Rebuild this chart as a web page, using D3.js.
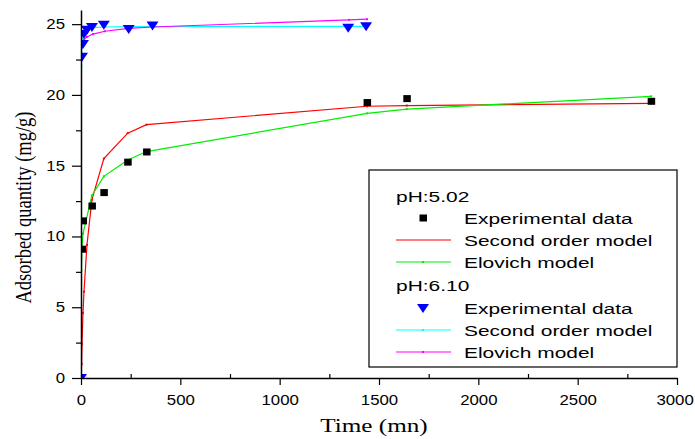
<!DOCTYPE html>
<html>
<head>
<meta charset="utf-8">
<script src="https://cdn.jsdelivr.net/npm/d3@7"></script>
<style>
  body { margin: 0; background: #fff; }
  svg { display: block; }
</style>
</head>
<body>
<script>
// pH 5.02
var tExp1 = [5, 10, 55, 115, 235, 330, 1440, 1640, 2870];
var qExp1 = [9.1, 11.1, 12.15, 13.1, 15.25, 15.97, 19.46, 19.74, 19.55];
var tSec1 = [0, 3, 5, 10, 15, 30, 55, 115, 235, 330, 1440, 1640, 2870];
var qSec1 = [0, 1.0, 2.4, 4.6, 6.1, 9.4, 12.6, 15.5, 17.3, 17.9, 19.2, 19.25, 19.4];
var tElo1 = [1, 2, 5, 10, 55, 115, 235, 330, 1440, 1640, 2870];
var qElo1 = [6.9, 7.6, 9.2, 10.2, 12.9, 14.25, 15.4, 16.0, 18.7, 19.0, 19.9];
// pH 6.10
var tExp2 = [0, 5, 10, 15, 30, 55, 115, 240, 360, 1345, 1435];
var qExp2 = [0, 22.7, 23.6, 24.3, 24.6, 24.8, 24.95, 24.65, 24.9, 24.75, 24.85];
var tSec2 = [0, 2, 5, 10, 15, 30, 60, 120, 240, 360, 1350, 1440];
var qSec2 = [0, 22.0, 23.8, 24.3, 24.5, 24.65, 24.75, 24.8, 24.82, 24.83, 24.85, 24.85];
var tElo2 = [1, 5, 10, 15, 30, 60, 120, 240, 360, 1350, 1440];
var qElo2 = [23.3, 23.6, 23.75, 23.9, 24.1, 24.3, 24.5, 24.7, 24.8, 25.3, 25.35];

var xTicks = [0, 500, 1000, 1500, 2000, 2500, 3000];
var yTicks = [0, 5, 10, 15, 20, 25];

var width = 695, height = 439;
var margin = {top: 10, right: 18, bottom: 61, left: 81};
var sans = "Liberation Sans, Arial, sans-serif";
var serif = "Liberation Serif, Times New Roman, serif";

var svg = d3.select("body").append("svg")
    .attr("width", width).attr("height", height);

var x = d3.scaleLinear().domain([0, 3000]).range([margin.left, width - margin.right]);
var y = d3.scaleLinear().domain([0, 26]).range([height - margin.bottom, margin.top]);

svg.append("defs").append("clipPath").attr("id", "clip")
  .append("rect").attr("x", margin.left).attr("y", margin.top)
  .attr("width", width - margin.right - margin.left)
  .attr("height", height - margin.bottom - margin.top);

var plot = svg.append("g").attr("clip-path", "url(#clip)");

function zip(ts, qs) { return ts.map((t, i) => [t, qs[i]]); }
var line = d3.line().x(d => x(d[0])).y(d => y(d[1]));

var fits = [
  {d: zip(tSec1, qSec1), c: "#ff0000"},
  {d: zip(tElo1, qElo1), c: "#00ee00"},
  {d: zip(tSec2, qSec2), c: "#00ffff"},
  {d: zip(tElo2, qElo2), c: "#ff00ff"}
];
fits.forEach(f => {
  plot.append("path").datum(f.d)
    .attr("fill", "none").attr("stroke", f.c).attr("stroke-width", 1.2)
    .attr("d", line);
  plot.selectAll(null).data(f.d).join("rect")
    .attr("x", d => x(d[0]) - 1).attr("y", d => y(d[1]) - 1)
    .attr("width", 2).attr("height", 2).attr("fill", f.c);
});

// experimental points
plot.selectAll(".sq").data(zip(tExp1, qExp1)).join("rect")
  .attr("x", d => x(d[0]) - 3.5).attr("y", d => y(d[1]) - 3.5)
  .attr("width", 7.5).attr("height", 7).attr("fill", "#000");

var tri = "M-6,-4L6,-4L0,5Z";
plot.selectAll(".tri").data(zip(tExp2, qExp2)).join("path")
  .attr("d", tri)
  .attr("transform", d => `translate(${x(d[0])},${y(d[1])})`)
  .attr("fill", "#0000ff");

// axes
var tickStretch = 1.2;
svg.append("g")
  .attr("class", "xa")
  .attr("transform", `translate(0,${height - margin.bottom})`)
  .call(d3.axisBottom(x).tickValues(xTicks).tickFormat(d3.format("d")).tickSize(7).tickPadding(10).tickSizeOuter(0));
svg.append("g")
  .attr("transform", `translate(0,${height - margin.bottom})`)
  .call(d3.axisTop(x).tickValues(d3.range(250, 3000, 500)).tickSize(4).tickFormat("").tickSizeOuter(0))
  .call(g => g.select(".domain").remove());
svg.append("g")
  .attr("class", "ya")
  .attr("transform", `translate(${margin.left},0)`)
  .call(d3.axisLeft(y).tickValues(yTicks).tickSize(9).tickPadding(7).tickSizeOuter(0));
svg.append("g")
  .attr("transform", `translate(${margin.left},0)`)
  .call(d3.axisLeft(y).tickValues(d3.range(2.5, 26, 5)).tickSize(5).tickFormat("").tickSizeOuter(0))
  .call(g => g.select(".domain").remove());

svg.selectAll(".domain").attr("stroke-width", 1.5);
svg.selectAll(".tick line").attr("stroke-width", 1.2);
svg.selectAll(".tick text")
  .attr("font-family", sans)
  .attr("font-size", 14).attr("fill", "#000");
// the reference text is stretched sideways
svg.selectAll(".xa .tick text").attr("transform", `scale(${tickStretch},1)`);
svg.selectAll(".xa .tick text").filter(d => d == 3000).attr("x", -2);
svg.selectAll(".ya .tick text")
  .attr("x", -16 / tickStretch)
  .attr("transform", `scale(${tickStretch},1)`);

svg.append("text")
  .attr("transform", `translate(374,432) scale(1.36,1)`)
  .attr("text-anchor", "middle")
  .attr("font-family", serif)
  .attr("font-size", 18.5)
  .text("Time (mn)");
svg.append("text")
  .attr("transform", `translate(31,207.5) scale(1.3,1) rotate(-90)`)
  .attr("text-anchor", "middle")
  .attr("font-family", serif)
  .attr("font-size", 18.5)
  .text("Adsorbed quantity (mg/g)");

// legend
var legStretch = 1.35;
var leg = svg.append("g");
leg.append("rect").attr("x", 369).attr("y", 170).attr("width", 308).attr("height", 197)
  .attr("fill", "#fff").attr("stroke", "#000").attr("stroke-width", 1.2);

var legRows = [
  {type: "head", label: "pH:5.02", yb: 202},
  {type: "sq", label: "Experimental data", yb: 224},
  {type: "line", c: "#ff0000", label: "Second order model", yb: 246},
  {type: "line", c: "#00ee00", dot: true, label: "Elovich model", yb: 268},
  {type: "head", label: "pH:6.10", yb: 291},
  {type: "tri", label: "Experimental data", yb: 314},
  {type: "line", c: "#00ffff", dot: true, label: "Second order model", yb: 336},
  {type: "line", c: "#ff00ff", dot: true, label: "Elovich model", yb: 358}
];
function legText(tx, ty, s) {
  leg.append("text")
    .attr("transform", `translate(${tx},${ty}) scale(${legStretch},1)`)
    .attr("font-family", sans).attr("font-size", 15.5).attr("fill", "#000")
    .text(s);
}
legRows.forEach(r => {
  var cy = r.yb - 6;
  if (r.type == "head") {
    legText(396, r.yb, r.label);
    return;
  }
  if (r.type == "sq") {
    leg.append("rect").attr("x", 419.5).attr("y", cy - 3.5).attr("width", 7.5).attr("height", 7).attr("fill", "#000");
  } else if (r.type == "tri") {
    leg.append("path").attr("d", tri).attr("transform", `translate(423,${cy})`).attr("fill", "#0000ff");
  } else {
    leg.append("line").attr("x1", 396).attr("x2", 451).attr("y1", cy).attr("y2", cy)
      .attr("stroke", r.c).attr("stroke-width", 1.2);
    if (r.dot) leg.append("rect").attr("x", 422).attr("y", cy - 1).attr("width", 2).attr("height", 2).attr("fill", r.c);
  }
  legText(464, r.yb, r.label);
});
</script>
</body>
</html>
